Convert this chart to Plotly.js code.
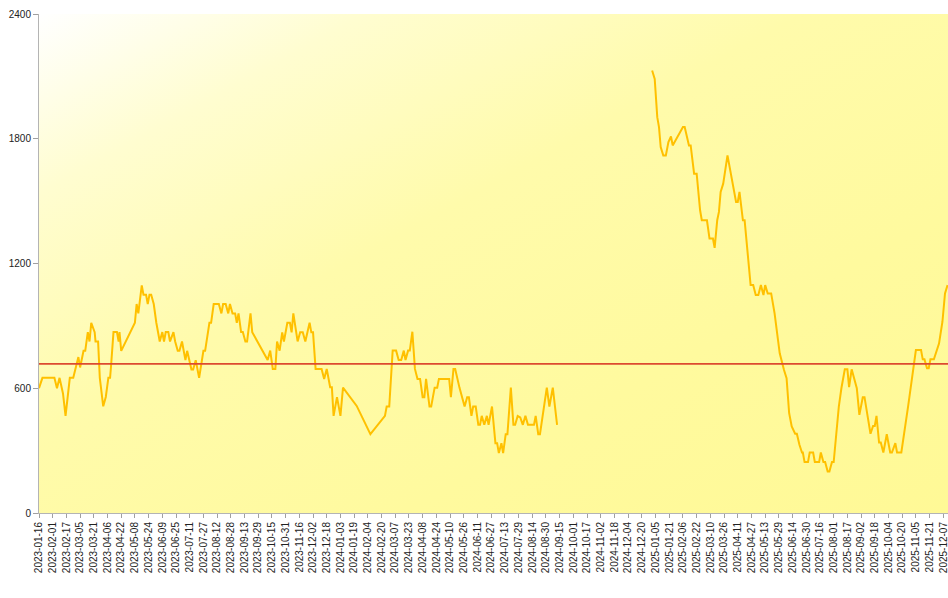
<!DOCTYPE html>
<html>
<head>
<meta charset="utf-8">
<script src="https://cdn.plot.ly/plotly-3.0.1.min.js"></script>
<style>
  html, body { margin: 0; padding: 0; background: #ffffff; overflow: hidden; }
  #wrap { position: relative; width: 948px; height: 598px; }
  #bg { position: absolute; left: 39px; top: 14px; width: 909px; height: 499px;
        background: linear-gradient(to bottom right, #ffffff 0%, #fffdd0 18%, #fffbab 42%, #fffa9e 70%, #fff996 100%); }
  #chart { position: absolute; left: 0; top: 0; width: 948px; height: 598px; }
</style>
</head>
<body>
<div id="wrap"><div id="bg"></div><div id="chart"></div></div>
<script>
// Segment 1 (2023-01 .. 2024-09)
const dates1 = ['2023-01-16','2023-01-20','2023-02-03','2023-02-06','2023-02-09','2023-02-13','2023-02-16','2023-02-21','2023-02-25','2023-02-28',
'2023-03-03','2023-03-05','2023-03-09','2023-03-11','2023-03-14','2023-03-16','2023-03-18','2023-03-22','2023-03-23','2023-03-26',
'2023-03-28','2023-04-01','2023-04-04','2023-04-07','2023-04-09','2023-04-10','2023-04-13','2023-04-17','2023-04-19','2023-04-20',
'2023-04-22','2023-05-08','2023-05-10','2023-05-12','2023-05-16','2023-05-18','2023-05-21','2023-05-23','2023-05-25','2023-05-27',
'2023-05-30','2023-06-02','2023-06-04','2023-06-06','2023-06-09','2023-06-11','2023-06-13','2023-06-16','2023-06-18','2023-06-22',
'2023-06-24','2023-06-27','2023-06-29','2023-07-02','2023-07-06','2023-07-08','2023-07-13','2023-07-15','2023-07-18','2023-07-22',
'2023-07-27','2023-07-29','2023-08-03','2023-08-05','2023-08-08','2023-08-14','2023-08-17','2023-08-19','2023-08-22','2023-08-25',
'2023-08-27','2023-08-30','2023-09-02','2023-09-04','2023-09-06','2023-09-09','2023-09-11','2023-09-14','2023-09-16','2023-09-20',
'2023-09-22','2023-10-10','2023-10-13','2023-10-16','2023-10-19','2023-10-21','2023-10-24','2023-10-27','2023-10-29','2023-11-02',
'2023-11-05','2023-11-07','2023-11-09','2023-11-14','2023-11-17','2023-11-20','2023-11-23','2023-11-28','2023-11-30','2023-12-02',
'2023-12-05','2023-12-12','2023-12-15','2023-12-18','2023-12-22','2023-12-24','2023-12-26','2023-12-30','2024-01-03','2024-01-06',
'2024-01-22','2024-02-07','2024-02-24','2024-02-26','2024-02-29','2024-03-04','2024-03-08','2024-03-11','2024-03-14','2024-03-17',
'2024-03-19','2024-03-22','2024-03-24','2024-03-27','2024-03-30','2024-04-02','2024-04-05','2024-04-08','2024-04-10','2024-04-12',
'2024-04-16','2024-04-18','2024-04-22','2024-04-25','2024-04-27','2024-05-09','2024-05-11','2024-05-14','2024-05-16','2024-05-21',
'2024-05-27','2024-05-30','2024-06-01','2024-06-04','2024-06-06','2024-06-09','2024-06-12','2024-06-14','2024-06-16','2024-06-19',
'2024-06-22','2024-06-24','2024-06-28','2024-07-02','2024-07-04','2024-07-06','2024-07-09','2024-07-11','2024-07-14','2024-07-16',
'2024-07-20','2024-07-23','2024-07-25','2024-07-28','2024-07-31','2024-08-03','2024-08-06','2024-08-09','2024-08-16','2024-08-18',
'2024-08-21','2024-08-23','2024-08-31','2024-09-03','2024-09-07','2024-09-12'];
const values1 = [600,650,650,600,650,575,467,650,650,700,
750,700,780,780,870,825,915,870,825,825,
650,513,558,650,650,700,870,870,825,870,
780,915,1005,960,1095,1050,1050,1005,1050,1050,
1005,915,870,825,870,825,870,870,825,870,
825,780,780,825,735,780,690,690,735,650,
780,780,915,915,1005,1005,960,1005,1005,960,
1005,960,960,915,960,870,870,825,825,960,
870,736,781,693,693,825,781,869,825,915,
915,869,960,825,869,869,825,915,869,869,
693,693,645,693,605,605,467,557,467,603,
515,379,467,512,512,781,781,736,736,781,
736,781,781,872,693,645,645,557,557,645,
512,512,603,603,645,645,557,693,693,603,
512,557,557,467,512,512,424,424,467,424,
467,424,512,336,336,288,336,288,379,379,
603,424,424,467,460,424,467,424,424,467,
379,379,603,512,603,424];

// Segment 2 (2025-01 .. 2025-12)
const dates2 = ['2025-01-01','2025-01-04','2025-01-07','2025-01-09','2025-01-11','2025-01-14','2025-01-17','2025-01-20','2025-01-23','2025-01-25',
'2025-02-06','2025-02-08','2025-02-13','2025-02-15','2025-02-19','2025-02-22','2025-02-26','2025-02-28','2025-03-06','2025-03-09',
'2025-03-13','2025-03-15','2025-03-18','2025-03-20','2025-03-22','2025-03-25','2025-03-30','2025-04-04','2025-04-09','2025-04-11',
'2025-04-13','2025-04-17','2025-04-19','2025-04-26','2025-04-29','2025-05-02','2025-05-05','2025-05-08','2025-05-11','2025-05-13',
'2025-05-16','2025-05-20','2025-05-24','2025-05-28','2025-05-30','2025-06-04','2025-06-07','2025-06-10','2025-06-13','2025-06-17',
'2025-06-19','2025-06-22','2025-06-25','2025-06-26','2025-06-28','2025-07-02','2025-07-04','2025-07-08','2025-07-10','2025-07-15',
'2025-07-17','2025-07-20','2025-07-22','2025-07-25','2025-07-27','2025-07-30','2025-08-01','2025-08-07','2025-08-10','2025-08-14',
'2025-08-17','2025-08-19','2025-08-22','2025-08-28','2025-08-31','2025-09-04','2025-09-06','2025-09-10','2025-09-13','2025-09-16',
'2025-09-18','2025-09-20','2025-09-23','2025-09-25','2025-09-28','2025-10-02','2025-10-06','2025-10-08','2025-10-12','2025-10-14',
'2025-10-19','2025-10-27','2025-11-03','2025-11-05','2025-11-11','2025-11-13','2025-11-15','2025-11-18','2025-11-20','2025-11-22',
'2025-11-26','2025-12-02','2025-12-06','2025-12-09','2025-12-12'];
const values2 = [2128,2088,1904,1856,1760,1720,1720,1784,1811,1768,
1856,1856,1768,1768,1632,1632,1456,1408,1408,1320,
1320,1275,1408,1448,1544,1584,1720,1600,1496,1496,
1544,1408,1408,1096,1096,1048,1048,1096,1048,1096,
1056,1056,960,832,768,688,648,480,416,381,
381,328,291,291,245,245,291,291,245,245,
291,245,245,200,200,245,245,512,600,691,
691,605,691,600,472,557,557,456,381,419,
419,467,339,339,291,379,291,291,336,291,
291,515,736,784,784,739,739,696,696,739,
739,815,920,1056,1096];

const referenceLevel = 717;

const yTicks = [0, 600, 1200, 1800, 2400];

const font = {family: 'Liberation Sans, Arial, sans-serif', size: 10, color: '#222222'};
const lineStyle = {color: '#FFC000', width: 2};

const traces = [
  {x: dates1, y: values1, type: 'scatter', mode: 'lines', line: lineStyle, hoverinfo: 'skip'},
  {x: dates2, y: values2, type: 'scatter', mode: 'lines', line: lineStyle, hoverinfo: 'skip'}
];

const layout = {
  width: 948, height: 598,
  margin: {l: 39, r: 0, t: 14, b: 85, pad: 0},
  paper_bgcolor: 'rgba(0,0,0,0)',
  plot_bgcolor: 'rgba(0,0,0,0)',
  showlegend: false,
  font: font,
  xaxis: {
    type: 'date',
    range: ['2023-01-16', '2025-12-12 12:00'],
    tick0: '2023-01-16',
    dtick: 16 * 86400000,
    tickformat: '%Y-%m-%d',
    tickangle: -90,
    ticks: 'outside', ticklen: 4, tickcolor: '#a0a0a0', tickwidth: 1,
    showline: true, linecolor: '#b4b4b4', linewidth: 1,
    showgrid: false, zeroline: false,
    tickfont: font,
    ticklabeloverflow: 'allow',
    automargin: false
  },
  yaxis: {
    range: [0, 2400],
    tickvals: yTicks,
    ticktext: yTicks.map(String),
    ticks: 'outside', ticklen: 5, tickcolor: '#a0a0a0', tickwidth: 1,
    showline: true, linecolor: '#b4b4b4', linewidth: 1,
    showgrid: false, zeroline: false,
    tickfont: font,
    automargin: false
  },
  shapes: [{
    type: 'line', xref: 'paper', yref: 'y',
    x0: 0, x1: 1, y0: referenceLevel, y1: referenceLevel,
    line: {color: '#DC4A30', width: 1.6},
    layer: 'above'
  }]
};

Plotly.newPlot('chart', traces, layout, {displayModeBar: false, staticPlot: true});
</script>
</body>
</html>
